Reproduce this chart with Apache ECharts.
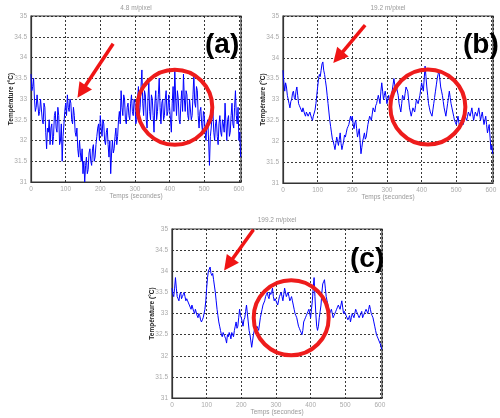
<!DOCTYPE html>
<html><head><meta charset="utf-8">
<script src="https://cdn.jsdelivr.net/npm/echarts@6/dist/echarts.min.js"></script>
<style>html,body{margin:0;padding:0;background:#fff}#c{width:500px;height:418px}</style>
</head><body><div id="c"></div>
<script>
// time sampling (seconds)
const tStart = 0, tStep = 2.5;

// temperature readings (°C), one per 2.5 s, panels (a) (b) (c)
const tempA = [
33.6,33.2,33.3,33.5,33.0,32.7,32.8,33.1,33.1,32.6,32.7,33.0,33.0,32.5,32.4,32.9,32.8,32.2,31.8,32.3,
32.2,32.5,31.9,32.3,32.4,31.9,32.1,32.6,32.7,32.3,32.2,32.8,32.6,31.9,32.0,32.4,31.5,32.1,32.4,32.7,
32.9,32.6,33.1,32.8,32.7,33.0,32.9,32.5,32.4,32.8,32.6,32.2,32.1,32.3,31.8,31.6,32.0,31.7,31.5,31.8,
31.2,31.5,31.0,31.4,31.6,31.2,31.3,31.7,31.8,31.5,31.4,31.8,31.9,31.5,31.6,31.9,32.1,32.3,32.4,32.0,
32.6,32.3,32.1,32.5,32.4,32.0,31.9,32.2,32.3,31.9,31.6,32.0,31.2,31.7,32.0,31.7,31.8,32.1,32.3,31.9,
32.1,32.5,32.7,32.4,33.2,32.8,32.6,33.1,33.0,32.5,32.4,32.8,32.9,32.6,32.5,32.9,33.1,32.7,32.6,33.0,
32.9,32.4,32.5,33.0,33.3,32.6,32.8,33.3,33.7,32.9,32.6,33.2,33.1,32.5,32.3,33.0,33.4,32.7,32.5,33.1,
33.0,32.6,32.2,32.9,33.2,32.5,32.7,33.1,33.5,32.8,32.4,32.9,33.0,32.5,32.6,33.0,33.2,32.6,32.7,33.1,
33.1,32.5,32.2,32.9,33.3,32.7,33.7,33.0,32.6,33.2,33.0,32.5,32.4,32.9,33.2,32.7,33.6,33.0,32.7,33.2,
33.1,32.6,32.5,33.0,33.0,32.5,32.6,33.1,33.6,32.9,32.8,33.3,33.2,32.6,32.3,32.7,32.8,32.4,32.2,32.7,
32.6,32.2,32.0,32.4,32.5,32.0,31.4,32.1,32.3,32.6,32.7,32.2,32.0,32.4,32.5,32.1,31.9,32.4,32.6,32.2,
32.1,32.5,32.4,32.2,32.9,32.4,32.0,32.5,32.6,32.1,32.2,32.6,32.9,32.4,32.3,32.8,33.2,32.6,32.4,32.8,
32.0,32.2,31.6];
const tempB = [
33.7,33.4,33.2,33.4,33.3,33.1,33.0,32.9,32.8,32.95,33.0,33.15,33.2,33.05,33.0,33.2,33.3,33.1,32.9,32.85,
32.8,32.75,32.7,32.8,32.8,32.65,32.6,32.7,32.7,32.6,32.6,32.7,32.7,32.55,32.5,32.6,32.6,32.75,32.9,33.1,
33.3,33.5,33.6,33.55,33.7,33.85,33.9,33.7,33.6,33.45,33.3,33.1,32.9,32.7,32.5,32.35,32.2,32.05,32.0,31.9,
31.8,31.95,32.1,32.0,31.9,32.05,32.2,31.95,31.8,31.9,32.0,32.15,32.1,32.2,32.3,32.35,32.4,32.5,32.6,32.5,
32.6,32.4,32.3,32.45,32.5,32.3,32.1,32.2,32.3,32.0,31.7,31.85,32.0,32.1,32.2,32.05,32.1,32.25,32.4,32.5,
32.6,32.55,32.5,32.65,32.8,32.75,32.7,32.85,32.9,33.0,33.1,33.0,32.9,33.2,33.4,33.2,33.0,33.1,33.2,33.05,
32.9,33.0,33.1,32.95,32.8,33.0,33.2,33.35,33.5,33.35,33.2,33.3,33.3,33.1,32.9,32.8,32.7,32.9,33.1,33.05,
33.0,33.15,33.3,33.25,33.2,33.0,32.8,32.7,32.6,32.7,32.8,32.75,32.7,32.85,33.0,32.95,32.9,33.0,33.1,33.25,
33.4,33.3,33.2,33.5,33.8,33.55,33.3,33.1,32.9,32.8,32.7,32.65,32.6,32.75,32.9,33.05,33.2,33.35,33.5,33.6,
33.7,33.5,33.3,33.2,33.1,32.95,32.8,32.7,32.6,32.75,32.9,33.05,33.2,33.05,32.9,32.8,32.7,32.6,32.5,32.45,
32.4,32.5,32.6,32.45,32.3,32.4,32.5,32.45,32.4,32.5,32.6,32.55,32.5,32.6,32.7,32.65,32.6,32.7,32.8,32.65,
32.5,32.6,32.7,32.65,32.6,32.7,32.8,32.65,32.5,32.6,32.7,32.55,32.4,32.5,32.6,32.4,32.2,32.3,32.4,32.1,
31.8,31.9,31.7];
const tempC = [
33.6,33.45,33.4,33.6,33.85,33.6,33.4,33.35,33.3,33.45,33.5,33.35,33.4,33.45,33.5,33.4,33.3,33.35,33.3,33.25,
33.2,33.15,33.1,33.2,33.2,33.05,33.0,33.1,33.1,32.95,32.9,33.0,32.95,32.85,32.8,32.85,32.9,33.0,33.1,33.3,
33.6,33.85,34.0,34.05,34.1,33.95,33.9,33.95,33.8,33.65,33.5,33.3,33.1,32.95,32.8,32.7,32.6,32.5,32.45,32.55,
32.5,32.45,32.4,32.3,32.5,32.45,32.55,32.5,32.4,32.55,32.5,32.45,32.6,32.7,32.8,32.65,32.7,32.9,33.1,32.95,
32.9,32.8,32.7,32.85,32.9,33.05,33.2,33.0,32.8,32.6,32.5,32.35,32.2,32.35,32.5,32.6,32.6,32.65,32.7,32.65,
32.6,32.75,32.9,33.0,33.1,33.2,33.2,33.3,33.4,33.45,33.5,33.4,33.35,33.5,33.45,33.5,33.6,33.4,33.3,33.35,
33.3,33.25,33.2,33.3,33.4,33.45,33.5,33.4,33.3,33.45,33.6,33.5,33.4,33.45,33.5,33.4,33.3,33.35,33.4,33.3,
33.2,33.1,33.0,32.95,32.9,32.8,32.7,32.65,32.6,32.55,32.5,32.6,32.8,32.85,32.9,32.95,33.0,33.05,33.1,33.0,
32.9,33.1,33.3,33.6,33.85,33.4,33.0,32.7,32.6,32.7,32.9,33.05,33.2,33.5,33.7,33.75,33.8,33.6,33.4,33.3,
33.2,33.1,33.0,33.05,33.1,33.0,32.9,32.95,33.0,33.05,33.1,33.15,33.2,33.15,33.1,33.2,33.3,33.15,33.0,33.05,
33.0,32.95,32.9,32.85,32.9,32.95,32.8,32.9,33.0,32.95,32.9,33.0,33.1,33.05,33.0,32.95,32.9,32.95,33.0,33.05,
32.9,32.95,33.0,33.05,33.1,33.05,33.0,33.1,33.2,33.1,33.0,32.95,32.9,32.8,32.7,32.6,32.5,32.45,32.4,32.35,
32.3,32.25,32.15];

const xTickLabels = ['0','100','200','300','400','500','600'];
const panelTitles = ['4.8 m/pixel','19.2 m/pixel','199.2 m/pixel'];
const panelTags = ['(a)','(b)','(c)'];
// annotation anchors in data units [time, temperature]
const arrowFrom = [[237,34.33],[237,34.78],[235,34.98]];
const arrowTo   = [[146,33.18],[159,34.01],[163,34.16]];
const circleAt  = [[415,32.8],[418,32.82],[344,32.9]];

const FONT = 'Liberation Sans, Arial, sans-serif';
const grids = [
  {left:31, top:16, width:210, height:166},
  {left:283, top:16, width:210, height:167},
  {left:172, top:229, width:210, height:169}
];
const series = [tempA, tempB, tempC];

const chart = echarts.init(document.getElementById('c'), null, {renderer:'canvas'});
const option = {
  animation:false,
  backgroundColor:'#fff',
  grid: grids.map(g => Object.assign({show:true, borderColor:'#333', borderWidth:1.2, backgroundColor:'transparent'}, g)),
  xAxis: grids.map((g,i) => ({
    type:'value', gridIndex:i, min:0, max:606, interval:100,
    axisLine:{show:true, lineStyle:{color:'#333', width:1.2}},
    axisTick:{show:false},
    axisLabel:{color:'#aaa', fontSize:6.5, fontFamily:FONT, margin:4,
      formatter: v => { const s = String(Math.round(v)); return xTickLabels.includes(s) ? s : ''; }},
    splitLine:{show:true, lineStyle:{color:'#222', width:0.9, type:[2,2]}},
    name:'Temps (secondes)', nameLocation:'middle', nameGap:11, nameMoveOverlap:false,
    nameTextStyle:{color:'#999', fontSize:6.5, fontFamily:FONT}
  })),
  yAxis: grids.map((g,i) => ({
    type:'value', gridIndex:i, min:31, max:35, interval:0.5,
    axisLine:{show:true, lineStyle:{color:'#333', width:1.2}},
    axisTick:{show:false},
    axisLabel:{color:'#aaa', fontSize:6.5, fontFamily:FONT, margin:4},
    splitLine:{show:true, lineStyle:{color:'#222', width:0.9, type:[2,2]}},
    name:'Température (°C)', nameLocation:'middle', nameGap:16, nameMoveOverlap:false,
    nameTextStyle:{color:'#222', fontSize:6.5, fontWeight:'bold', fontFamily:FONT}
  })),
  series: series.map((arr,i) => ({
    type:'line', xAxisIndex:i, yAxisIndex:i, showSymbol:false, symbol:'none',
    lineStyle:{color:'#0000ff', width:1}, z:2,
    data: arr.map((v,k) => [tStart + k*tStep, v]),
    markLine:{
      silent:true, symbol:['none','triangle'], symbolSize:15,
      lineStyle:{color:'#f01414', width:3.5, type:'solid'},
      itemStyle:{color:'#f01414'},
      label:{show:false}, emphasis:{disabled:true}, animation:false,
      data:[[{coord:arrowFrom[i]},{coord:arrowTo[i]}]]
    },
    markPoint:{
      silent:true, symbol:'circle', symbolSize:75,
      itemStyle:{color:'rgba(0,0,0,0)', borderColor:'#ee1c1c', borderWidth:4},
      label:{show:false}, emphasis:{disabled:true}, animation:false,
      data:[{coord:circleAt[i]}]
    }
  })),
  graphic: [
    ...panelTitles.map((t,i) => ({type:'text', x: grids[i].left + grids[i].width/2, y: i<2 ? 8 : 220,
      style:{text:t, fill:'#999', font:'6.5px '+FONT, align:'center', verticalAlign:'middle'}})),
    ...panelTags.map((t,i) => ({type:'text', x:[205,463,350][i], y: i<2 ? 45 : 259, z:10,
      style:{text:t, fill:'#000', font:'bold 28px '+FONT, align:'left', verticalAlign:'middle'}}))
  ]
};
chart.setOption(option);
</script></body></html>
